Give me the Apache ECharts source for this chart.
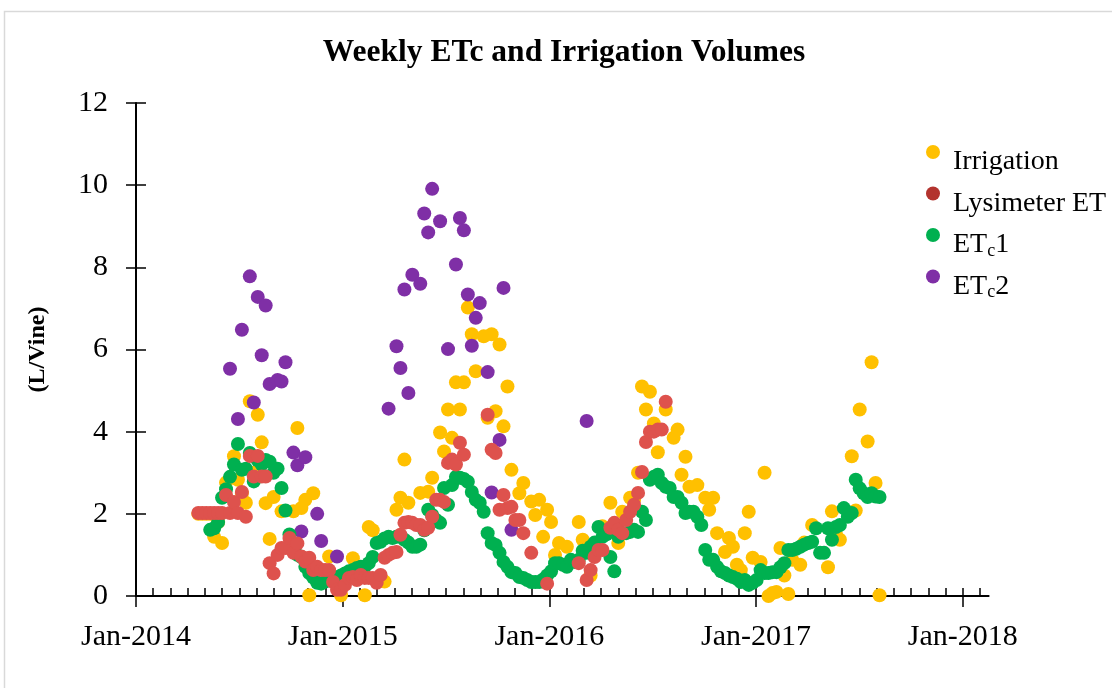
<!DOCTYPE html>
<html>
<head>
<meta charset="utf-8">
<title>Weekly ETc and Irrigation Volumes</title>
<script src="https://cdn.jsdelivr.net/npm/echarts@6/dist/echarts.min.js"></script>
<style>
  html, body { margin: 0; padding: 0; background: #fff; }
  #chart { width: 1112px; height: 688px; }
</style>
</head>
<body>
<div id="chart"></div>
<script>
// first week of the record, then one value per week (null = no point that week)
var weekStart = '2014-04-21';

// years that get a major tick and a "Jan-" label
var yearTicks = [2014, 2015, 2016, 2017, 2018];

// weekly irrigation, L/vine
var irrigation = [
  2.0, 2.0, 2.0, 2.0, 1.44, 1.8, 1.29, 2.76, null, 3.4,          // 0
  2.83, 2.5, 2.27, 4.74, 3.0, 4.41, 3.74, 2.26, 1.39, 2.41,      // 10
  null, 2.06, null, null, 2.06, 4.09, 2.14, 2.34, 0.02, 2.5,     // 20
  null, null, null, 0.96, null, null, 0.02, null, null, 0.92,    // 30
  null, null, 0.02, 1.68, 1.6, null, null, 0.35, null, null,     // 40
  2.1, 2.39, 3.32, 2.27, null, null, 2.51, null, 2.54, 2.88,     // 50
  null, 3.98, 3.52, 4.54, 3.85, 5.2, 4.54, 5.2, 7.02, 6.37,      // 60
  5.47, null, 6.32, 4.34, 6.37, 4.5, 6.12, 4.13, 5.1, 3.07,      // 70
  null, 2.5, 2.75, null, 2.3, 1.97, 2.34, 1.44, 2.1, 1.8,        // 80
  1.0, 1.29, null, 1.2, null, null, 1.8, 1.37, null, 0.5,        // 90
  null, null, 1.7, null, 2.27, null, 1.29, 2.05, null, 2.39,     // 100
  2.34, 3.0, 5.1, 4.54, 4.97, 4.2, 3.5, null, 4.54, null,        // 110
  3.85, 4.05, 2.95, 3.39, 2.66, null, 2.7, null, 2.39, 2.1,      // 120
  2.39, 1.53, null, 1.07, 1.41, 1.2, 0.76, 0.63, 1.53, 2.05,     // 130
  0.93, null, 0.83, 3.0, 0.0, 0.07, 0.1, 1.17, 0.5, 0.05,        // 140
  0.88, null, 0.76, 1.3, null, 1.73, null, null, null, 0.7,      // 150
  2.06, 1.5, 1.37, null, null, 3.4, 2.08, 4.54, null, 3.76,      // 160
  5.69, 2.75, 0.02                                               // 170
];

// weekly lysimeter ET, L/vine
var lysimeterET = [
  2.02, 2.02, 2.02, 2.02, 2.02, 2.02, 2.02, 2.46, 2.02, 2.29,    // 0
  2.02, 2.53, 1.93, 3.41, 2.91, 3.41, 2.91, 2.91, 0.8, 0.55,     // 10
  1.0, 1.17, 1.17, 1.41, 1.05, 1.28, 0.96, 0.84, 0.93, 0.63,     // 20
  0.71, 0.63, 0.63, 0.63, 0.34, 0.15, 0.15, 0.27, 0.44, 0.46,    // 30
  0.39, 0.51, 0.44, 0.44, 0.44, 0.32, 0.51, 0.93, 1.0, 1.05,     // 40
  1.07, 1.49, 1.78, 1.8, 1.78, 1.73, 1.73, 1.61, 1.66, 1.93,     // 50
  2.34, 2.34, 2.29, 3.24, 3.32, 3.2, 3.73, 3.44, null, null,     // 60
  null, null, null, 4.41, 3.56, 3.48, 2.1, 2.46, 2.14, 2.17,     // 70
  1.85, 1.85, 1.53, null, 1.05, null, null, null, 0.3, null,     // 80
  null, null, null, null, null, null, 0.8, null, 0.39, 0.63,     // 90
  0.95, 1.12, 1.12, null, 1.66, 1.78, 1.61, 1.53, 1.85, 2.05,    // 100
  2.22, 2.51, 3.02, 3.75, 4.0, 4.0, 4.05, 4.05, 4.73             // 110
];

// weekly ETc1, L/vine
var etc1 = [
  null, null, null, 1.61, 1.65, 1.8, 2.39, 2.6, 2.9, 3.2,        // 0
  3.7, 3.07, 3.1, 3.48, 2.79, 3.3, 3.2, 3.31, 3.27, 3.0,         // 10
  3.1, 2.63, 2.08, 1.5, 1.2, 1.0, 0.95, 0.71, 0.56, 0.45,        // 20
  0.32, 0.3, 0.35, 0.39, 0.4, 0.45, 0.5, 0.55, 0.6, 0.63,        // 30
  0.68, 0.71, 0.71, 0.8, 0.95, 1.29, 1.32, 1.4, 1.44, 1.41,      // 40
  1.44, 1.44, 1.37, 1.3, 1.2, 1.2, 1.25, 1.6, 2.1, 1.97,         // 50
  1.85, 1.78, 2.63, 2.22, 2.7, 2.9, 2.88, 2.85, 2.78, 2.53,      // 60
  2.34, 2.27, 2.05, 1.53, 1.29, 1.24, 1.05, 0.83, 0.71, 0.58,    // 70
  0.56, 0.46, 0.44, 0.39, 0.34, 0.34, 0.34, 0.4, 0.5, 0.6,       // 80
  0.8, 0.8, 0.76, 0.71, 0.88, 0.83, 0.88, 1.1, 1.05, 1.2,        // 90
  1.3, 1.68, 1.44, 1.5, 0.95, 0.6, 1.44, 1.53, 1.53, 1.56,       // 100
  1.61, 1.56, 2.05, 1.85, 2.83, 2.9, 2.95, 2.75, 2.66, 2.63,     // 110
  2.41, 2.41, 2.27, 2.02, 2.05, 2.05, 1.93, 1.73, 1.12, 0.88,    // 120
  0.88, 0.71, 0.6, 0.56, 0.5, 0.46, 0.42, 0.34, 0.39, 0.27,      // 130
  0.32, 0.39, 0.63, 0.56, 0.56, 0.58, 0.58, 0.7, 0.8, 1.12,      // 140
  1.12, 1.15, 1.2, 1.25, 1.29, 1.32, 1.65, 1.05, 1.05, 1.65,     // 150
  1.37, 1.68, 1.73, 2.14, 1.93, 2.02, 2.83, 2.62, 2.5, 2.41,     // 160
  2.5, 2.42, 2.41                                                // 170
];

// weekly ETc2, L/vine
var etc2 = [
  null, null, null, null, null, null, null, null, 5.53, null,    // 0
  4.31, 6.48, null, 7.78, 4.71, 7.28, 5.86, 7.07, 5.16, null,    // 10
  5.26, 5.22, 5.69, null, 3.49, 3.18, 1.57, 3.38, null, 0.5,     // 20
  2.0, 1.34, null, null, null, 0.96, null, null, null, null,     // 30
  null, null, null, null, null, null, null, null, 4.56, null,    // 40
  6.08, 5.55, 7.46, 4.94, 7.82, null, 7.6, 9.31, 8.85, 9.91,     // 50
  null, 9.12, null, 6.01, null, 8.07, 9.2, 8.9, 7.34, 6.09,      // 60
  6.77, 7.13, null, 5.45, 2.52, null, 3.8, 7.5, null, 1.61,      // 70
  null, null, null, null, null, null, null, null, null, null,    // 80
  null, null, null, null, null, null, null, null, 4.26           // 90
];

var serif = 'Liberation Serif';

// date of week i, as a fractional year for the value axis
function weekYear(i) {
  var d = new Date(weekStart + 'T00:00:00Z');
  d.setUTCDate(d.getUTCDate() + 7 * i);
  var y = d.getUTCFullYear();
  var a = Date.UTC(y, 0, 1), b = Date.UTC(y + 1, 0, 1);
  return y + (d.getTime() - a) / (b - a);
}

function points(values) {
  var out = [];
  values.forEach(function (v, i) {
    if (v !== null) out.push([weekYear(i), v]);
  });
  return out;
}

// empty first line pushes the text a little below its marker, as in the original
var legendText = {
  'Irrigation': '{gap|}\n{n|Irrigation}',
  'Lysimeter ET': '{gap|}\n{n|Lysimeter ET}',
  'ETc1': '{gap|}\n{n|ET}{s|c}{n|1}',
  'ETc2': '{gap|}\n{n|ET}{s|c}{n|2}'
};

var chart = echarts.init(document.getElementById('chart'), null, { renderer: 'canvas' });

var xCommon = {
  type: 'value', position: 'bottom', min: 2014, max: 2018.125, interval: 1,
  splitLine: { show: false }
};
var yCommon = {
  type: 'value', position: 'left', min: 0, max: 12, interval: 2,
  splitLine: { show: false }
};

var option = {
  backgroundColor: '#fff',
  animation: false,
  graphic: [{
    type: 'rect', silent: true,
    shape: { x: 4.5, y: 11.5, width: 1300, height: 900 },
    style: { fill: 'none', stroke: '#d9d9d9', lineWidth: 1.5 }
  }],
  title: {
    text: 'Weekly ETc and Irrigation Volumes',
    left: 559, top: 32, textAlign: 'center',
    textStyle: { fontFamily: serif, fontSize: 31.5, fontWeight: 'bold', color: '#000', lineHeight: 32 }
  },
  grid: { left: 136, right: 123.4, top: 103, bottom: 92, outerBoundsMode: 'none' },
  legend: {
    orient: 'vertical', left: 921, top: 122,
    icon: 'circle', itemWidth: 30, itemHeight: 14, itemGap: -8.5,
    data: ['Irrigation', { name: 'Lysimeter ET', itemStyle: { color: '#B3332E' } }, 'ETc1', 'ETc2'],
    formatter: function (name) { return legendText[name]; },
    textStyle: {
      fontFamily: serif, fontSize: 20, lineHeight: 20,
      rich: {
        gap: { fontSize: 20, lineHeight: 20 },
        n: { fontFamily: serif, fontSize: 28, lineHeight: 30, color: '#000' },
        s: { fontFamily: serif, fontSize: 18, lineHeight: 8, verticalAlign: 'bottom', color: '#000' }
      }
    }
  },
  xAxis: [
    Object.assign({}, xCommon, {
      axisLine: { show: true, lineStyle: { color: '#000', width: 2 } },
      axisTick: { show: true, inside: true, length: 8, customValues: yearTicks, lineStyle: { color: '#000', width: 1.5 } },
      minorTick: { show: true, splitNumber: 12, length: 8, lineStyle: { color: '#000', width: 1.5 } },
      axisLabel: {
        customValues: yearTicks, margin: 26,
        fontFamily: serif, fontSize: 30, color: '#000',
        formatter: function (v) { return 'Jan-' + Math.round(v); }
      }
    }),
    Object.assign({}, xCommon, {
      axisLine: { show: false },
      axisTick: { show: true, inside: false, length: 11, customValues: yearTicks, lineStyle: { color: '#000', width: 1.5 } },
      minorTick: { show: false },
      axisLabel: { show: false }
    })
  ],
  yAxis: [
    Object.assign({}, yCommon, {
      name: '(L/Vine)', nameLocation: 'middle', nameGap: 86,
      nameTextStyle: { fontFamily: serif, fontSize: 24, fontWeight: 'bold', color: '#000' },
      axisLine: { show: true, lineStyle: { color: '#000', width: 2 } },
      axisTick: { show: true, inside: true, length: 10, lineStyle: { color: '#000', width: 1.5 } },
      axisLabel: { margin: 28, fontFamily: serif, fontSize: 30, color: '#000' }
    }),
    Object.assign({}, yCommon, {
      axisLine: { show: false },
      axisTick: { show: true, inside: false, length: 10, lineStyle: { color: '#000', width: 1.5 } },
      axisLabel: { show: false }
    })
  ],
  series: [
    { name: 'Irrigation', type: 'scatter', data: points(irrigation), z: 2,
      symbolSize: 14, itemStyle: { color: '#FFC000', opacity: 1 } },
    { name: 'Lysimeter ET', type: 'scatter', data: points(lysimeterET), z: 5,
      symbolSize: 14, itemStyle: { color: '#DE524D', opacity: 1 } },
    { name: 'ETc1', type: 'scatter', data: points(etc1), z: 4,
      symbolSize: 14, itemStyle: { color: '#00B050', opacity: 1 } },
    { name: 'ETc2', type: 'scatter', data: points(etc2), z: 3,
      symbolSize: 14, itemStyle: { color: '#7F2FA6', opacity: 1 } }
  ]
};

chart.setOption(option);
</script>
</body>
</html>
